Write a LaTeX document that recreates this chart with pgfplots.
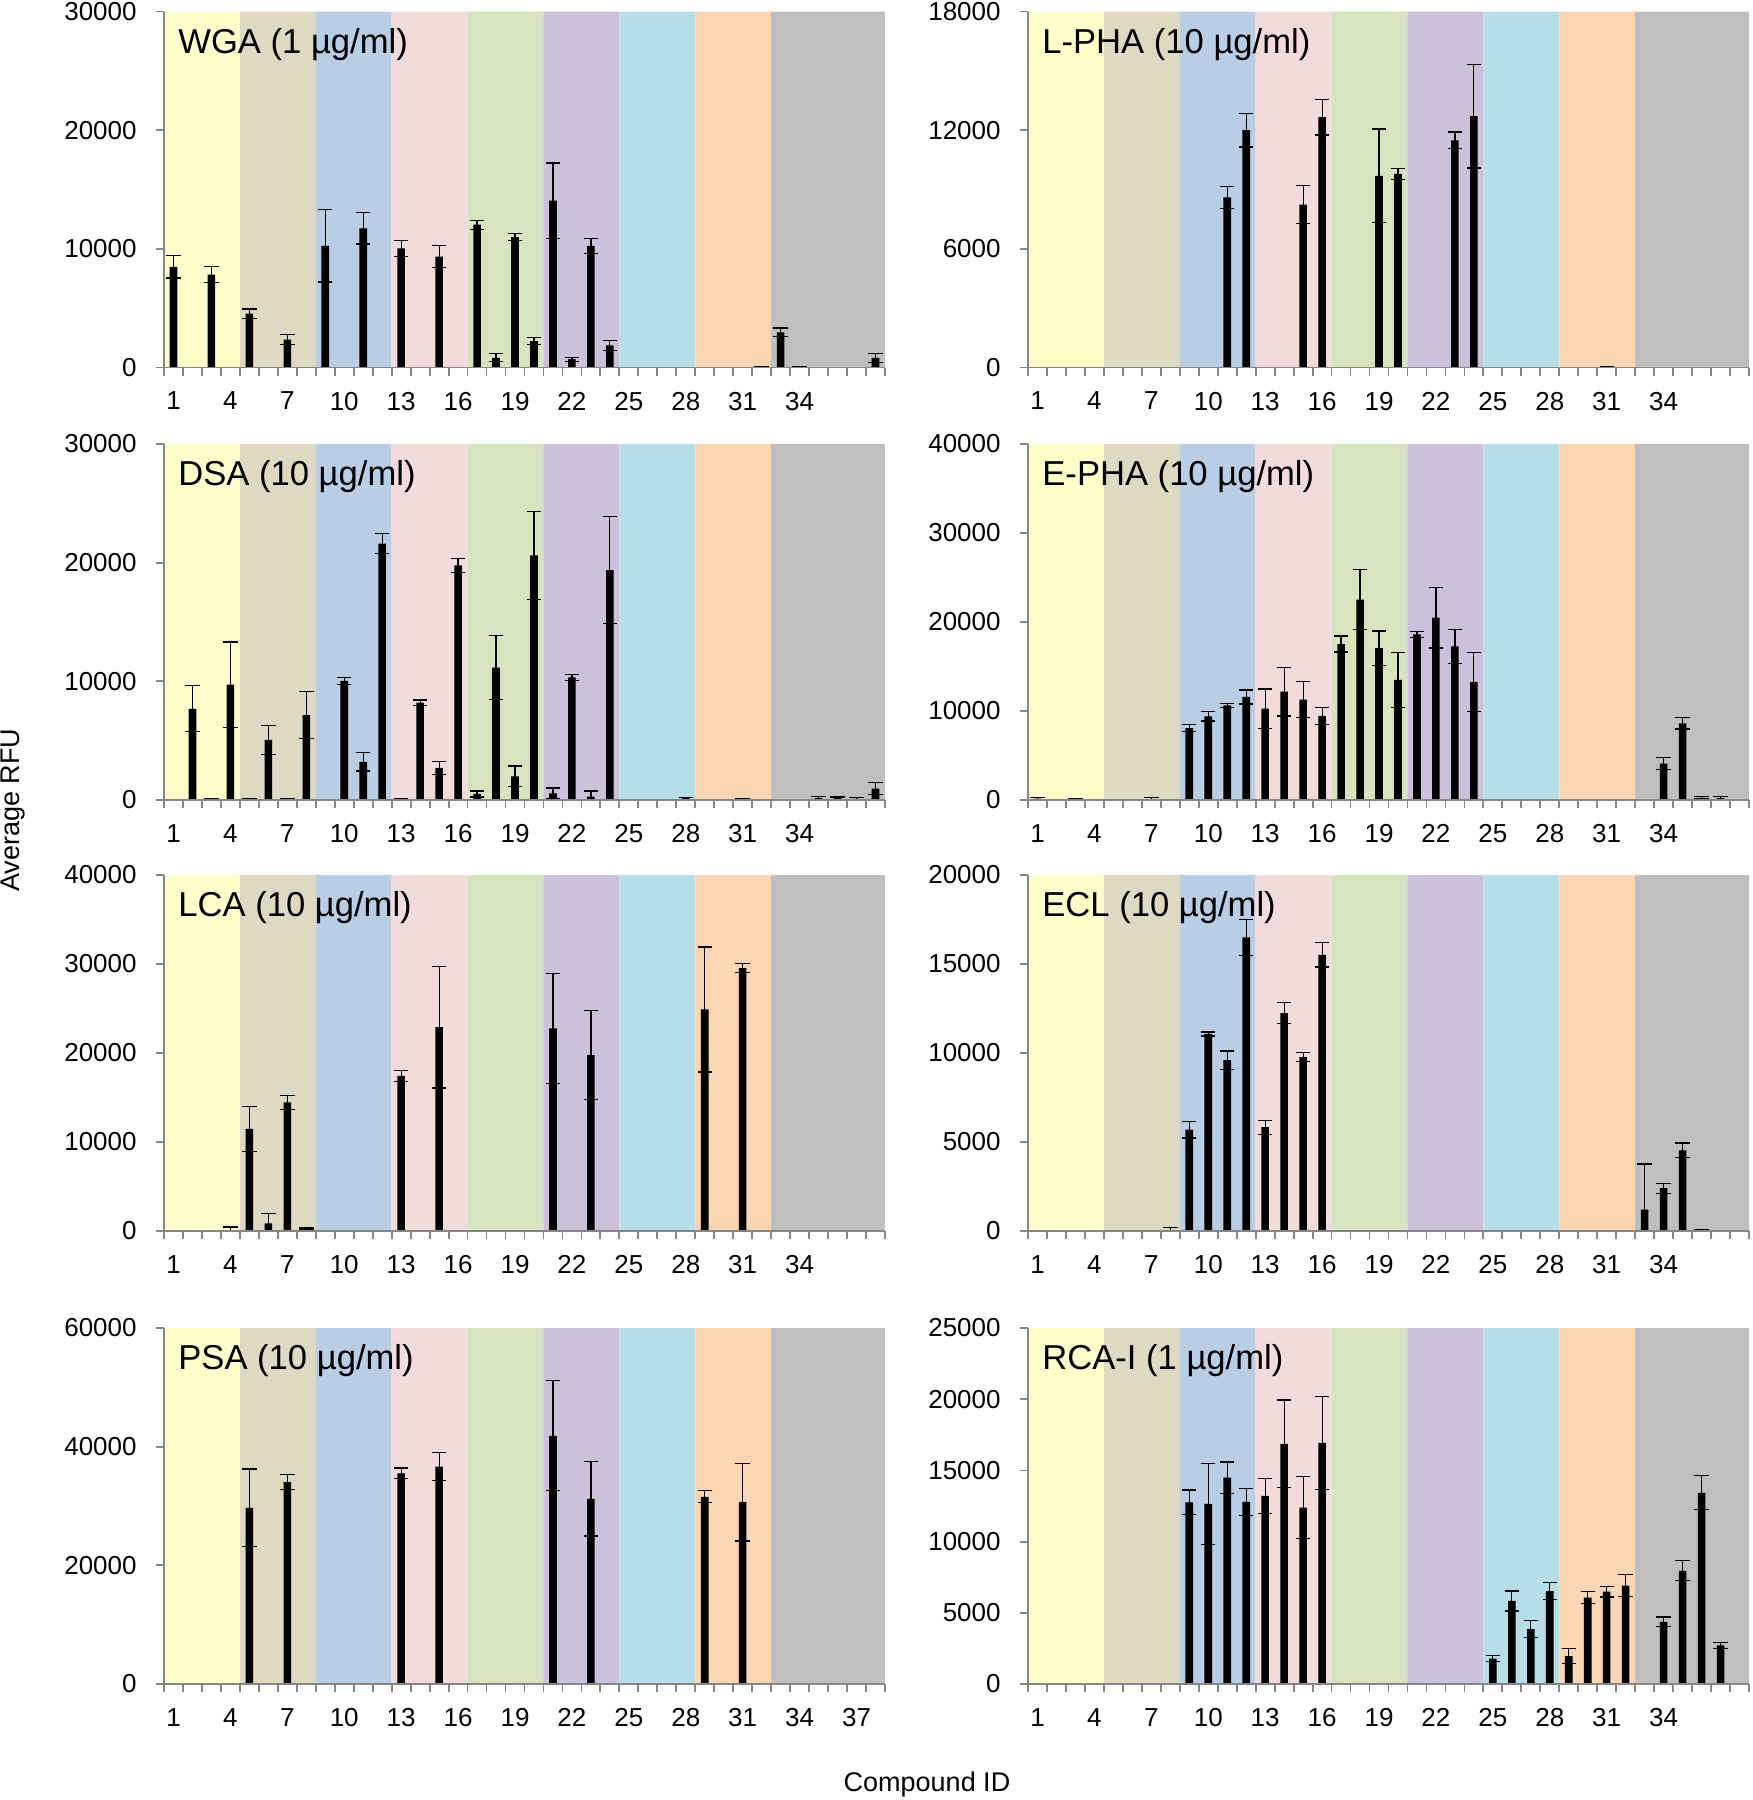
\documentclass[border=0pt]{standalone}
\usepackage{pgfplots}
\pgfplotsset{compat=1.18}
\usepackage{pgfplotstable}
\usepackage{fontspec}
\setmainfont{Liberation Sans}

\definecolor{cA}{HTML}{FFFFCC}
\definecolor{cB}{HTML}{DDD9C3}
\definecolor{cC}{HTML}{B9CDE5}
\definecolor{cD}{HTML}{F2DCDB}
\definecolor{cE}{HTML}{D7E4BD}
\definecolor{cF}{HTML}{CCC1DA}
\definecolor{cG}{HTML}{B7DEE8}
\definecolor{cH}{HTML}{FCD5B5}
\definecolor{cI}{HTML}{BFBFBF}
\definecolor{axgray}{HTML}{868686}

\pgfplotstableread{
x y e
1 8480 930
3 7830 650
5 4530 400
7 2340 420
9 10250 3040
11 11720 1320
13 10030 680
15 9350 900
17 12030 370
18 820 340
19 10990 310
20 2230 280
21 14060 3180
22 700 170
23 10250 650
24 1860 400
32 80 0
33 2960 370
34 50 0
38 820 390
}\tWGA

\pgfplotstableread{
x y e
11 8600 570
12 12000 850
15 8230 960
16 12660 900
19 9690 2370
20 9790 270
23 11490 420
24 12710 2620
31 50 0
}\tLPHA

\pgfplotstableread{
x y e
2 7690 1940
3 80 0
4 9720 3600
5 80 50
6 5070 1240
7 80 80
8 7160 2000
10 10030 310
11 3210 760
12 21610 820
13 80 0
14 8200 230
15 2700 560
16 19780 590
17 510 250
18 11160 2680
19 2000 870
20 20620 3690
21 560 450
22 10340 250
23 280 480
24 19380 4500
26 50 0
27 50 0
28 150 80
30 50 0
31 80 60
32 50 0
33 50 0
34 50 0
35 150 150
36 150 100
37 100 100
38 960 500
}\tDSA

\pgfplotstableread{
x y e
1 150 100
2 50 0
3 150 60
4 50 0
7 50 250
8 30 0
9 8080 380
10 9400 520
11 10640 230
12 11580 790
13 10260 2220
14 12180 2740
15 11280 2000
16 9440 980
17 17520 900
18 22520 3380
19 17070 1920
20 13500 3080
21 18610 340
22 20490 3420
23 17260 1920
24 13270 3310
28 50 0
29 50 0
34 4100 680
35 8610 640
36 250 100
37 200 150
38 50 0
}\tEPHA

\pgfplotstableread{
x y e
4 50 400
5 11470 2520
6 870 1130
7 14440 830
8 250 80
13 17440 600
15 22900 6840
17 100 0
21 22780 6170
23 19770 5000
29 24890 7030
31 29550 490
}\tLCA

\pgfplotstableread{
x y e
4 30 0
6 30 0
8 30 150
9 5700 470
10 11070 110
11 9600 510
12 16490 1010
13 5830 400
14 12240 600
15 9770 250
16 15510 680
33 1200 2560
34 2410 280
35 4530 410
36 80 0
}\tECL

\pgfplotstableread{
x y e
5 29690 6560
7 34040 1300
13 35510 900
15 36640 2370
21 41840 9270
23 31210 6280
29 31550 1020
31 30650 6560
}\tPSA

\pgfplotstableread{
x y e
9 12750 870
10 12650 2850
11 14490 1100
12 12790 940
13 13220 1220
14 16860 3080
15 12390 2190
16 16930 3270
25 1790 190
26 5830 700
27 3860 590
28 6520 610
29 1950 520
30 6070 400
31 6490 380
32 6910 780
34 4370 330
35 7950 700
36 13430 1200
37 2710 190
}\tRCA

\newcommand{\bands}[1]{%
 \addplot[fill=cA, draw=none, forget plot] coordinates {(0.5,0) (0.5,#1) (4.5,#1) (4.5,0)} \closedcycle;
 \addplot[fill=cB, draw=none, forget plot] coordinates {(4.5,0) (4.5,#1) (8.5,#1) (8.5,0)} \closedcycle;
 \addplot[fill=cC, draw=none, forget plot] coordinates {(8.5,0) (8.5,#1) (12.5,#1) (12.5,0)} \closedcycle;
 \addplot[fill=cD, draw=none, forget plot] coordinates {(12.5,0) (12.5,#1) (16.5,#1) (16.5,0)} \closedcycle;
 \addplot[fill=cE, draw=none, forget plot] coordinates {(16.5,0) (16.5,#1) (20.5,#1) (20.5,0)} \closedcycle;
 \addplot[fill=cF, draw=none, forget plot] coordinates {(20.5,0) (20.5,#1) (24.5,#1) (24.5,0)} \closedcycle;
 \addplot[fill=cG, draw=none, forget plot] coordinates {(24.5,0) (24.5,#1) (28.5,#1) (28.5,0)} \closedcycle;
 \addplot[fill=cH, draw=none, forget plot] coordinates {(28.5,0) (28.5,#1) (32.5,#1) (32.5,0)} \closedcycle;
 \addplot[fill=cI, draw=none, forget plot] coordinates {(32.5,0) (32.5,#1) (38.5,#1) (38.5,0)} \closedcycle;
}

\newcommand{\bars}[1]{%
 \addplot[ybar, bar width=0.4, fill=black, draw=none,
   error bars/.cd, y dir=both, y explicit,
   error bar style={line width=0.6pt, black},
   error mark options={rotate=90, mark size=3.6pt, line width=0.6pt, black}]
   table[x=x, y=y, y error=e]{#1};
}

\newcommand{\ttl}[1]{%
 \node[anchor=base west, inner sep=0pt, font=\fontsize{17.3}{17.3}\selectfont]
   at ([xshift=7pt,yshift=-20.75pt]rel axis cs:0,1) {#1};
}

\pgfplotsset{
 panel/.style={
  scale only axis, width=360.5pt, height=178pt,
  anchor=north west,
  xmin=0.5, xmax=38.5, ymin=0,
  axis x line*=bottom, axis y line*=left,
  x axis line style={-}, y axis line style={-},
  axis line style={draw=axgray, line width=0.9pt},
  axis on top,
  tick align=outside,
  major tick length=4pt,
  every tick/.style={draw=axgray, line width=0.9pt},
  xtick={0.5,1.5,...,38.5},
  xticklabels={1,,,4,,,7,,,10,,,13,,,16,,,19,,,22,,,25,,,28,,,31,,,34},
  scaled y ticks=false,
  /pgf/number format/assume math mode=true,
  /pgf/number format/1000 sep={},
  xticklabel style={font=\fontsize{13}{13}\selectfont, inner sep=0pt, anchor=north, xshift=4.7434pt, yshift=-8pt},
  yticklabel style={font=\fontsize{13}{13}\selectfont, inner sep=0pt, anchor=east, xshift=-9.5pt},
 }
}

\begin{document}
\begin{tikzpicture}
\useasboundingbox (0,0) rectangle (876pt,-900pt);

% Row 1
\begin{axis}[panel, at={(82pt,-5.75pt)}, ymax=30000, ytick={0,10000,20000,30000}]
\bands{30000}
\bars{\tWGA}
\ttl{WGA (1 µg/ml)}
\end{axis}
\begin{axis}[panel, at={(514pt,-5.75pt)}, ymax=18000, ytick={0,6000,12000,18000}]
\bands{18000}
\bars{\tLPHA}
\ttl{L-PHA (10 µg/ml)}
\end{axis}

% Row 2
\begin{axis}[panel, at={(82pt,-222pt)}, ymax=30000, ytick={0,10000,20000,30000}]
\bands{30000}
\bars{\tDSA}
\ttl{DSA (10 µg/ml)}
\end{axis}
\begin{axis}[panel, at={(514pt,-222pt)}, ymax=40000, ytick={0,10000,20000,30000,40000}]
\bands{40000}
\bars{\tEPHA}
\ttl{E-PHA (10 µg/ml)}
\end{axis}

% Row 3
\begin{axis}[panel, at={(82pt,-437.5pt)}, ymax=40000, ytick={0,10000,20000,30000,40000}]
\bands{40000}
\bars{\tLCA}
\ttl{LCA (10 µg/ml)}
\end{axis}
\begin{axis}[panel, at={(514pt,-437.5pt)}, ymax=20000, ytick={0,5000,10000,15000,20000}]
\bands{20000}
\bars{\tECL}
\ttl{ECL (10 µg/ml)}
\end{axis}

% Row 4
\begin{axis}[panel, at={(82pt,-664pt)}, ymax=60000, ytick={0,20000,40000,60000},
  xticklabels={1,,,4,,,7,,,10,,,13,,,16,,,19,,,22,,,25,,,28,,,31,,,34,,,37}]
\bands{60000}
\bars{\tPSA}
\ttl{PSA (10 µg/ml)}
\end{axis}
\begin{axis}[panel, at={(514pt,-664pt)}, ymax=25000, ytick={0,5000,10000,15000,20000,25000}]
\bands{25000}
\bars{\tRCA}
\ttl{RCA-I (1 µg/ml)}
\end{axis}

\node[rotate=90, font=\fontsize{13.5}{13.5}\selectfont] at (6.5pt,-405pt) {Average RFU};
\node[font=\fontsize{13.5}{13.5}\selectfont] at (463.5pt,-892pt) {Compound ID};
\end{tikzpicture}
\end{document}
